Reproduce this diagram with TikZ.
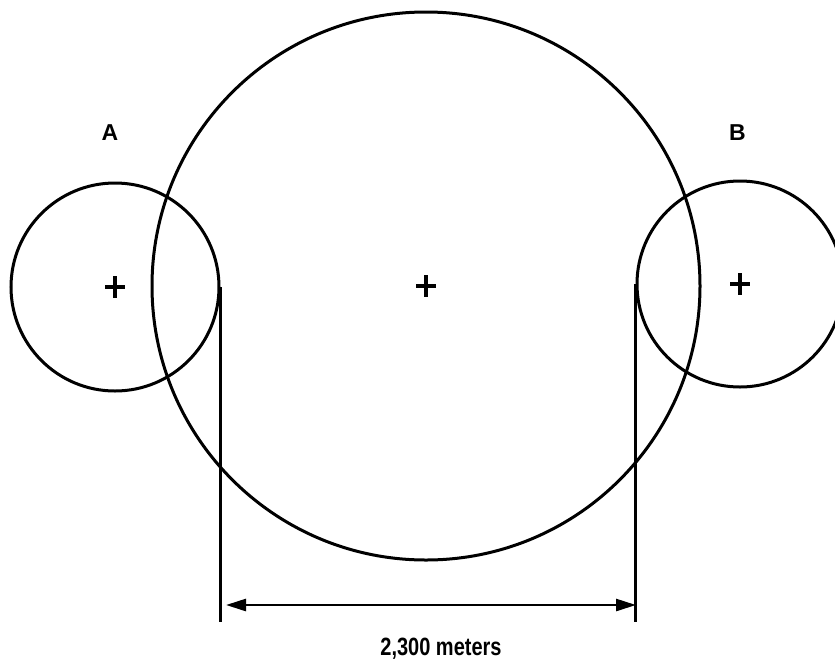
\documentclass[tikz,border=0pt]{standalone}
\usepackage{fontspec}
\setmainfont{Liberation Sans}
\usetikzlibrary{arrows.meta,calc}
\tikzset{
  ring/.style={draw, circle, line width=3pt, inner sep=0pt},
  dimline/.style={line width=2.8pt},
  dimarrow/.style={arrows={Triangle[length=20pt,width=12pt]-Triangle[length=20pt,width=12pt]}, line width=2.6pt},
  cross/.style={line width=3.6pt},
  sitelabel/.style={font=\bfseries\fontsize{23}{23}\selectfont, inner sep=0pt}
}

\begin{document}
\begin{tikzpicture}[x=1pt, y=-1pt]
\useasboundingbox (0,0) rectangle (835,662);
% circles
\node[ring, minimum size=548pt] (main) at (426,286) {};
\node[ring, minimum size=208pt] (siteA) at (115,287) {};
\node[ring, minimum size=206pt] (siteB) at (740,284) {};
% centre marks
\foreach \c in {main,siteA,siteB}
  \draw[cross] (\c.center) ++(-10,0) -- ++(20,0)
               (\c.center) ++(0,-11) -- ++(0,22);
% labels
\node[sitelabel] (labA) at (110,133) {A};
\node[sitelabel] (labB) at (737.5,133) {B};
% dimension
\coordinate (footA) at (220,622);
\coordinate (footB) at (639,622);
\draw[dimline] (siteA.east) -- (siteA.east |- footA);
\draw[dimline] (siteB.west) -- (siteB.west |- footB);
\coordinate (arrA) at (226,605);
\coordinate (arrB) at (636,605);
\draw[dimarrow] (arrA) -- (arrB);
\node[anchor=base, inner sep=0pt, font=\bfseries\fontsize{25}{25}\selectfont] (dist) at (441,655) {\scalebox{0.8}[1]{2,300 meters}};
\end{tikzpicture}
\end{document}
